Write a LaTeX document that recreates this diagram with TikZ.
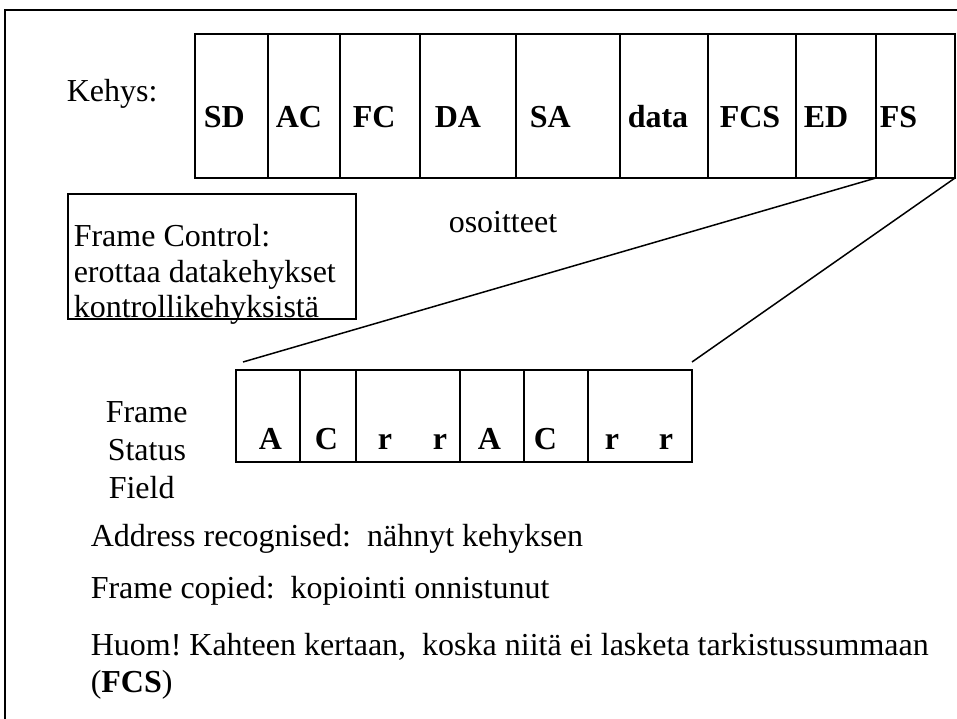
\documentclass[tikz,border=0pt]{standalone}
\usepackage{fontspec}
\setmainfont{Liberation Serif}
\frenchspacing
\begin{document}
\begin{tikzpicture}[x=1pt,y=-1pt,line width=1.5pt,
  txt/.style={anchor=base west,inner sep=0pt,font=\fontsize{32}{38}\selectfont},
  btxt/.style={anchor=base west,inner sep=0pt,font=\fontsize{32}{38}\selectfont\bfseries},
  cell/.style={draw}]
\useasboundingbox (0,0) rectangle (957,719);
\begin{scope}
\clip (0,0) rectangle (957,719);
% outer frame
\draw (5,730) -- (5,10) -- (970,10);
% main frame
\foreach \a/\b in {195/268,268/340,340/420,420/516,516/620,620/708,708/796,796/876,876/955}
  \draw (\a,34) rectangle (\b,178);
\coordinate (fsl) at (876,178);
\coordinate (fsr) at (955,178);
% FS field
\foreach \a/\b in {236/300,300/356,356/460,460/524,524/588,588/692}
  \draw (\a,370) rectangle (\b,462);
\coordinate (fl) at (243,362);
\coordinate (fr) at (692,362);
\draw (fsl) -- (fl);
\draw (fsr) -- (fr);
% frame control box
\draw (68,194) rectangle (356,319);
\end{scope}
\node[txt] (kehys) at (66,102) {Kehys:};
\node[btxt] (sd) at (203,128) {SD};
\node[btxt] (ac) at (275,128) {AC};
\node[btxt] (fc) at (352,128) {FC};
\node[btxt] (da) at (434,128) {DA};
\node[btxt] (sa) at (529,128) {SA};
\node[btxt] (dt) at (627,128) {data};
\node[btxt] (fcs) at (719,128) {FCS};
\node[btxt] (ed) at (803,128) {ED};
\node[btxt] (fs) at (879,128) {FS};
\node[txt] (fc1) at (73,247) {Frame Control:};
\node[txt] (fc2) at (73,282) {erottaa datakehykset};
\node[txt] (fc3) at (73,317) {kontrollikehyksistä};
\node[txt] (os) at (448,233) {osoitteet};
\node[btxt] (b1) at (258,449) {A};
\node[btxt] (b2) at (314,449) {C};
\node[btxt] (b3) at (377,449) {r};
\node[btxt] (b4) at (432,449) {r};
\node[btxt] (b5) at (477,449) {A};
\node[btxt] (b6) at (533,449) {C};
\node[btxt] (b7) at (604,449) {r};
\node[btxt] (b8) at (658,449) {r};
\node[txt] (f1) at (105,422) {Frame};
\node[txt] (f2) at (107,460) {Status};
\node[txt] (f3) at (108,498) {Field};
\node[txt] (l1) at (90,546) {Address recognised:\ \ nähnyt kehyksen};
\node[txt] (l2) at (90,598) {Frame copied:\ \ kopiointi onnistunut};
\node[txt] (l3) at (90,655) {Huom! Kahteen kertaan,\ \ koska niitä ei lasketa tarkistussummaan};
\node[txt] (l4) at (90,692) {(\textbf{FCS})};
\end{tikzpicture}
\end{document}
